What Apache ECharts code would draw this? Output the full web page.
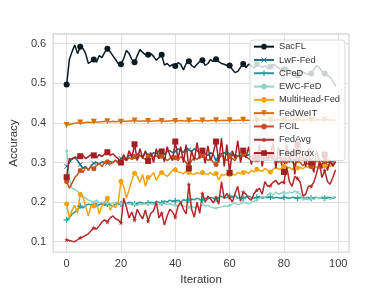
<!DOCTYPE html>
<html><head><meta charset="utf-8">
<script src="https://cdn.jsdelivr.net/npm/echarts@6/dist/echarts.min.js"></script>
<style>html,body{margin:0;padding:0;background:#fff}#c{width:388px;height:291px}</style>
</head><body><div id="c"></div>
<script>
const iterations = Array.from({length: 100}, (_, i) => i);
const xTicks = [0, 20, 40, 60, 80, 100];
const yTicks = [0.1, 0.2, 0.3, 0.4, 0.5, 0.6];
const seriesNames = ['SacFL','LwF-Fed','CFeD','EWC-FeD','MultiHead-Fed','FedWeIT','FCIL','FedAvg','FedProx'];

const sacfl = [0.497,0.560,0.580,0.597,0.575,0.592,0.588,0.575,0.550,0.555,
0.560,0.553,0.570,0.565,0.578,0.587,0.580,0.570,0.560,0.550,
0.548,0.562,0.583,0.575,0.560,0.553,0.570,0.585,0.578,0.572,
0.572,0.575,0.568,0.558,0.565,0.572,0.546,0.550,0.543,0.548,
0.544,0.552,0.548,0.534,0.550,0.556,0.545,0.540,0.548,0.555,
0.558,0.545,0.550,0.560,0.555,0.561,0.555,0.550,0.548,0.545,
0.545,0.535,0.527,0.530,0.540,0.549,0.540,0.548,0.545,0.538,
0.548,0.545,0.540,0.545,0.538,0.542,0.548,0.545,0.538,0.535,
0.535,0.540,0.530,0.528,0.525,0.520,0.530,0.528,0.525,0.522,
0.525,0.535,0.545,0.540,0.530,0.525,0.520,0.515,0.505,0.493];

const lwf = [0.290,0.300,0.310,0.312,0.305,0.295,0.285,0.290,0.280,0.292,
0.298,0.300,0.296,0.302,0.300,0.298,0.303,0.300,0.305,0.302,
0.310,0.315,0.305,0.318,0.320,0.312,0.322,0.318,0.315,0.325,
0.320,0.318,0.325,0.322,0.330,0.325,0.320,0.328,0.330,0.325,
0.328,0.335,0.330,0.325,0.338,0.332,0.328,0.335,0.330,0.325,
0.330,0.322,0.318,0.325,0.320,0.305,0.318,0.322,0.325,0.320,
0.322,0.318,0.320,0.315,0.318,0.320,0.316,0.320,0.315,0.312,
0.315,0.318,0.312,0.310,0.315,0.312,0.310,0.308,0.312,0.310,
0.308,0.310,0.312,0.305,0.308,0.310,0.306,0.305,0.308,0.304,
0.306,0.302,0.305,0.308,0.303,0.305,0.300,0.304,0.302,0.300];

const cfed = [0.155,0.160,0.170,0.175,0.180,0.190,0.185,0.192,0.195,0.193,
0.195,0.190,0.194,0.196,0.192,0.195,0.193,0.190,0.195,0.197,
0.195,0.198,0.196,0.200,0.198,0.195,0.197,0.200,0.198,0.196,
0.198,0.200,0.197,0.202,0.200,0.198,0.203,0.200,0.205,0.202,
0.203,0.205,0.200,0.206,0.204,0.205,0.208,0.206,0.210,0.207,
0.205,0.210,0.208,0.212,0.210,0.208,0.212,0.215,0.210,0.212,
0.215,0.212,0.218,0.210,0.212,0.210,0.213,0.215,0.212,0.210,
0.212,0.214,0.210,0.212,0.211,0.213,0.210,0.212,0.211,0.210,
0.212,0.211,0.210,0.212,0.211,0.210,0.212,0.211,0.210,0.212,
0.210,0.211,0.212,0.210,0.211,0.210,0.212,0.211,0.210,0.212];

const ewc = [0.330,0.260,0.235,0.232,0.228,0.220,0.215,0.210,0.205,0.203,
0.200,0.205,0.198,0.200,0.196,0.198,0.195,0.197,0.200,0.198,
0.196,0.198,0.195,0.196,0.193,0.195,0.192,0.196,0.194,0.197,
0.195,0.197,0.194,0.196,0.193,0.195,0.197,0.194,0.196,0.193,
0.192,0.190,0.193,0.190,0.188,0.187,0.190,0.186,0.188,0.187,
0.195,0.190,0.192,0.188,0.186,0.185,0.187,0.188,0.190,0.189,
0.192,0.195,0.198,0.193,0.196,0.200,0.198,0.196,0.200,0.202,
0.205,0.210,0.215,0.212,0.218,0.222,0.218,0.225,0.220,0.223,
0.225,0.222,0.226,0.223,0.228,0.225,0.220,0.205,0.208,0.206,
0.210,0.207,0.212,0.208,0.215,0.206,0.210,0.207,0.212,0.215];

const multihead = [0.195,0.160,0.180,0.192,0.172,0.220,0.212,0.190,0.165,0.192,
0.190,0.200,0.170,0.190,0.200,0.210,0.180,0.192,0.186,0.200,
0.253,0.240,0.210,0.232,0.255,0.273,0.265,0.250,0.270,0.240,
0.262,0.265,0.275,0.255,0.268,0.275,0.270,0.265,0.272,0.280,
0.282,0.276,0.275,0.272,0.278,0.275,0.272,0.270,0.275,0.272,
0.275,0.272,0.270,0.275,0.268,0.272,0.256,0.270,0.268,0.272,
0.270,0.272,0.268,0.275,0.272,0.275,0.278,0.272,0.280,0.276,
0.283,0.280,0.278,0.285,0.280,0.276,0.282,0.288,0.283,0.285,
0.290,0.285,0.288,0.282,0.290,0.286,0.288,0.284,0.290,0.288,
0.290,0.292,0.288,0.285,0.290,0.292,0.295,0.290,0.298,0.300];

const fedweit = [0.395,0.396,0.398,0.399,0.400,0.401,0.400,0.401,0.402,0.401,
0.403,0.402,0.402,0.403,0.404,0.404,0.403,0.404,0.403,0.404,
0.403,0.404,0.404,0.405,0.405,0.406,0.405,0.404,0.405,0.405,
0.405,0.404,0.405,0.405,0.406,0.405,0.404,0.405,0.405,0.406,
0.405,0.405,0.406,0.405,0.405,0.406,0.405,0.406,0.406,0.405,
0.406,0.406,0.405,0.406,0.406,0.407,0.406,0.406,0.407,0.406,
0.407,0.407,0.406,0.407,0.407,0.408,0.407,0.407,0.406,0.407,
0.407,0.407,0.408,0.407,0.407,0.408,0.407,0.407,0.408,0.407,
0.408,0.407,0.407,0.408,0.408,0.407,0.408,0.407,0.408,0.408,
0.408,0.407,0.408,0.408,0.407,0.408,0.408,0.407,0.407,0.406];

const fcil = [0.252,0.235,0.248,0.262,0.270,0.280,0.275,0.288,0.282,0.290,
0.284,0.292,0.298,0.290,0.300,0.302,0.296,0.300,0.306,0.298,
0.303,0.310,0.305,0.312,0.308,0.315,0.310,0.318,0.312,0.308,
0.315,0.320,0.312,0.318,0.310,0.316,0.312,0.305,0.310,0.318,
0.312,0.305,0.315,0.308,0.300,0.290,0.305,0.312,0.308,0.315,
0.318,0.312,0.305,0.310,0.300,0.295,0.310,0.318,0.312,0.305,
0.315,0.310,0.305,0.318,0.312,0.320,0.315,0.310,0.305,0.312,
0.308,0.315,0.310,0.305,0.312,0.318,0.310,0.305,0.300,0.310,
0.305,0.298,0.310,0.302,0.295,0.305,0.300,0.292,0.300,0.295,
0.290,0.298,0.305,0.300,0.295,0.302,0.310,0.298,0.295,0.302];

const fedavg = [0.105,0.103,0.101,0.100,0.105,0.110,0.112,0.116,0.120,0.128,
0.135,0.132,0.140,0.150,0.155,0.150,0.160,0.165,0.158,0.155,
0.148,0.210,0.188,0.160,0.175,0.155,0.182,0.168,0.158,0.180,
0.152,0.172,0.178,0.200,0.160,0.172,0.142,0.165,0.182,0.175,
0.162,0.190,0.200,0.182,0.170,0.245,0.182,0.162,0.200,0.172,
0.222,0.200,0.215,0.208,0.198,0.212,0.195,0.252,0.210,0.222,
0.212,0.200,0.222,0.240,0.202,0.225,0.220,0.210,0.205,0.222,
0.230,0.235,0.220,0.252,0.240,0.242,0.250,0.255,0.245,0.250,
0.250,0.290,0.252,0.240,0.265,0.260,0.250,0.215,0.220,0.240,
0.240,0.250,0.272,0.300,0.262,0.280,0.252,0.245,0.262,0.282];

const fedprox = [0.263,0.310,0.308,0.314,0.312,0.316,0.318,0.310,0.315,0.320,
0.318,0.312,0.320,0.315,0.322,0.326,0.318,0.322,0.315,0.310,
0.300,0.320,0.305,0.330,0.312,0.346,0.305,0.335,0.310,0.330,
0.304,0.325,0.300,0.335,0.310,0.328,0.302,0.340,0.318,0.305,
0.353,0.310,0.340,0.300,0.345,0.285,0.330,0.305,0.350,0.310,
0.330,0.298,0.342,0.305,0.325,0.353,0.300,0.362,0.290,0.345,
0.274,0.330,0.310,0.355,0.300,0.330,0.312,0.340,0.295,0.325,
0.310,0.345,0.290,0.335,0.305,0.318,0.350,0.285,0.340,0.300,
0.276,0.345,0.300,0.330,0.270,0.345,0.305,0.320,0.290,0.335,
0.300,0.275,0.330,0.305,0.285,0.320,0.280,0.305,0.290,0.302];

const allValues = [sacfl, lwf, cfed, ewc, multihead, fedweit, fcil, fedavg, fedprox];
const colors = ['#0c1a24','#1b6e89','#25999b','#8fd4c2','#f2a30f','#d9700e','#c5501b','#b5282a','#a31f22'];
const xPath = 'path://M1,0L5,4L9,0L10,1L6,5L10,9L9,10L5,6L1,10L0,9L4,5L0,1Z';
const plusPath = 'path://M4,0L6,0L6,4L10,4L10,6L6,6L6,10L4,10L4,6L0,6L0,4L4,4Z';
const starPath = 'path://M5,0L6.2,3.6L10,3.6L6.9,5.9L8.1,9.5L5,7.3L1.9,9.5L3.1,5.9L0,3.6L3.8,3.6Z';
const symbols = ['circle', xPath, plusPath, 'circle', 'circle', 'triangle', 'circle', starPath, 'rect'];
const sizes = [6, 5, 6, 3, 5, 6, 5, 5, 6];
const rotates = [0, 0, 0, 0, 0, 180, 0, 0, 0];

const series = seriesNames.map((name, k) => ({
  name, type: 'line',
  data: iterations.map((it, i) => [it, allValues[k][i]]),
  symbol: symbols[k],
  symbolRotate: rotates[k],
  symbolSize: (v, p) => (p.dataIndex % 5 === 0 ? sizes[k] : 0),
  showSymbol: true, showAllSymbol: true,
  lineStyle: { width: 1.5, color: colors[k] },
  itemStyle: { color: colors[k] },
  emphasis: { disabled: true },
  animation: false
}));

const chart = echarts.init(document.getElementById('c'), null, { renderer: 'canvas' });
const font = 'Liberation Sans, Arial, sans-serif';
chart.setOption({
  backgroundColor: '#fff',
  textStyle: { fontFamily: font },
  color: colors,
  animation: false,
  grid: { left: 48, right: 39, top: 34, bottom: 32, show: true, borderColor: '#d6d6d6', borderWidth: 1.3 },
  xAxis: {
    type: 'value', min: -4.95, max: 103.95,
    name: 'Iteration', nameLocation: 'middle', nameGap: 17,
    nameTextStyle: { fontSize: 11.5, color: '#333', fontFamily: font },
    axisLine: { show: false },
    axisTick: { show: false, customValues: xTicks },
    axisLabel: { customValues: xTicks, fontSize: 11, color: '#3a3a3a', margin: 6, fontFamily: font },
    splitLine: { show: true, lineStyle: { color: '#dedede', width: 1 } }
  },
  yAxis: {
    type: 'value', min: 0.0738, max: 0.6245,
    name: 'Accuracy', nameLocation: 'middle', nameGap: 30, nameRotate: 90,
    nameTextStyle: { fontSize: 11.5, color: '#333', fontFamily: font },
    axisLine: { show: false },
    axisTick: { show: false, customValues: yTicks },
    axisLabel: { customValues: yTicks, fontSize: 11, color: '#3a3a3a', margin: 7, fontFamily: font,
      formatter: v => Number(v).toFixed(1) },
    splitLine: { show: true, lineStyle: { color: '#dedede', width: 1 } }
  },
  legend: {
    orient: 'vertical', left: 250, top: 40,
    data: seriesNames,
    itemWidth: 20, itemHeight: 7, itemGap: 0,
    padding: [0, 5, 1, 3],
    textStyle: { fontSize: 9.3, color: '#333', lineHeight: 13.3, fontFamily: font },
    backgroundColor: 'rgba(255,255,255,0.8)',
    borderColor: '#d8d8d8', borderWidth: 1, borderRadius: 3
  },
  series
});
</script>
</body></html>
